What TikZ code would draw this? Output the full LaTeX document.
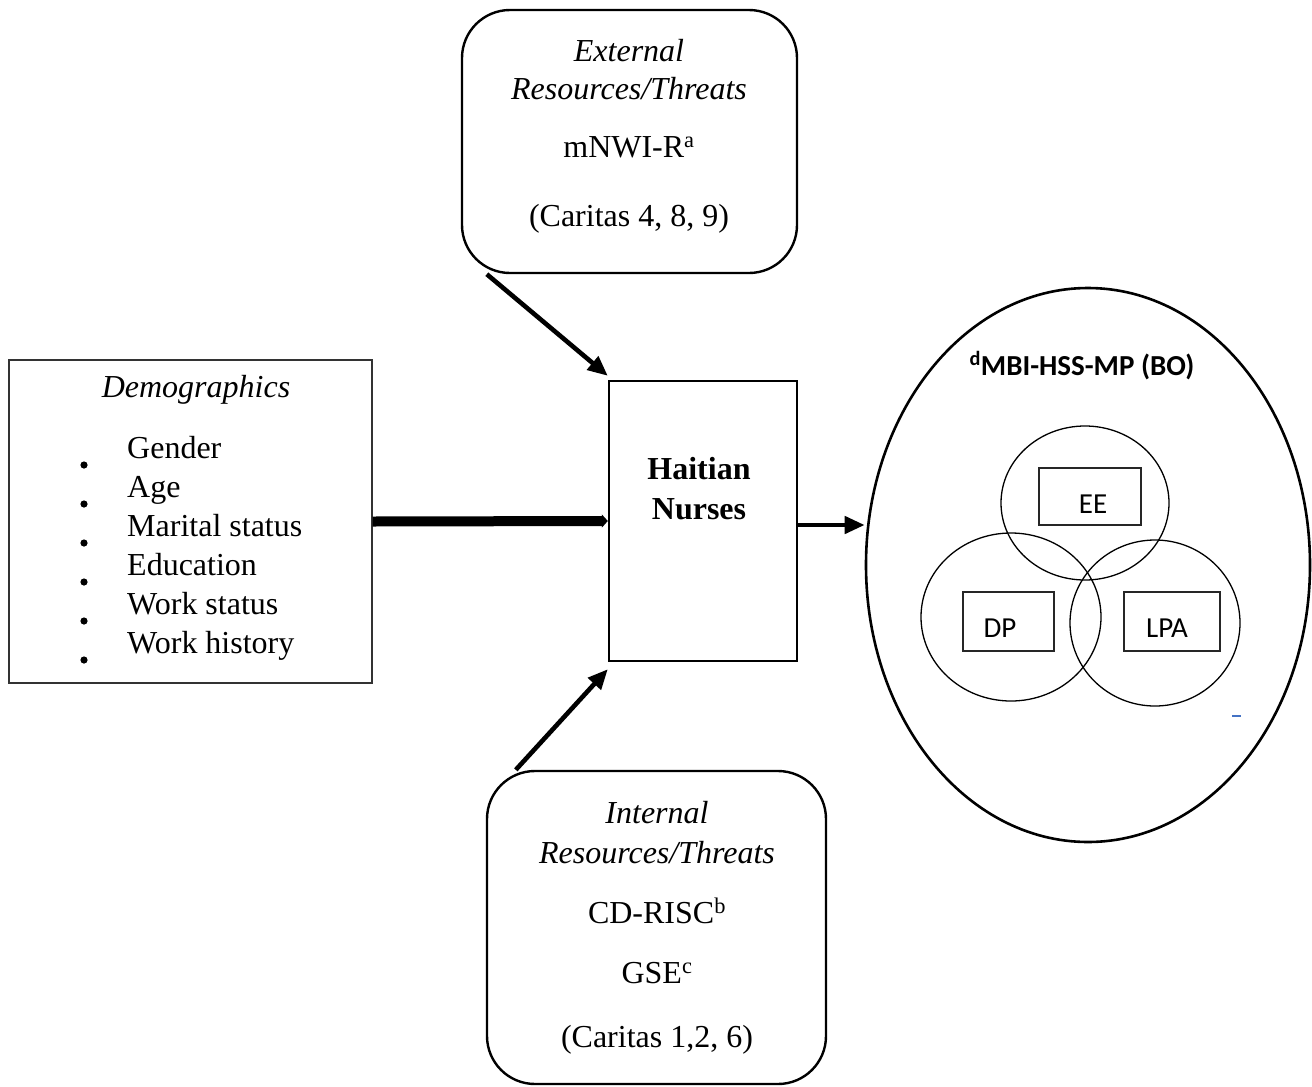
\documentclass[tikz,border=0pt]{standalone}
\usepackage{fontspec}
\setmainfont{Liberation Serif}
\newfontfamily\calibri{Carlito}
\usetikzlibrary{shapes,arrows.meta}
\definecolor{dash_blue}{RGB}{68, 114, 196}
\tikzstyle{sq}=[rectangle,draw=black,line width=2.4pt,inner sep=0pt]
\tikzstyle{rb}=[rectangle,rounded corners=48pt,draw=black,line width=2.4pt,inner sep=0pt]
\tikzstyle{ring}=[ellipse,draw=black,line width=1.3pt,inner sep=0pt]
\tikzstyle{tag}=[rectangle,draw=black!85,line width=1.4pt,inner sep=0pt]
\tikzstyle{txt}=[anchor=base,inner sep=0pt,font=\fontsize{32}{38}\selectfont]
\tikzstyle{lbl}=[anchor=base,inner sep=0pt,font=\calibri\fontsize{29}{34}\selectfont]
\tikzstyle{arr}=[line width=4.6pt,-{Triangle[length=20pt,width=17pt]}]

\begin{document}
\begin{tikzpicture}[x=1pt,y=-1pt]
    \useasboundingbox (0,0) rectangle (1312,1087);
    % boxes
    \node [style=sq, draw=black!80, line width=1.4pt, minimum width=363pt, minimum height=323pt] (demo) at (190.5,521.5) {};
    \node [style=sq, minimum width=188pt, minimum height=280pt] (nurse) at (703,521) {};
    \node [style=rb, minimum width=335pt, minimum height=263pt] (ext) at (629.5,141.5) {};
    \node [style=rb, minimum width=339pt, minimum height=313pt] (int) at (656.5,927.5) {};
    \node [ellipse, draw=black, line width=2.6pt, inner sep=0pt, minimum width=444pt, minimum height=554pt] (bo) at (1088,565) {};
    % texts
    \node [style=txt, font=\itshape\fontsize{32}{38}\selectfont] (demotitle) at (196,397) {Demographics};
    \foreach \item [count=\i] in {Gender, Age, Marital status, Education, Work status, Work history} {
        \node [style=txt, anchor=base west] (item\i) at (127,419+39*\i) {\item};
        \fill (84,426+39*\i) circle (3.6pt);
    }
    \node [style=txt, font=\bfseries\fontsize{32}{38}\selectfont] (h1) at (699,479) {Haitian};
    \node [style=txt, font=\bfseries\fontsize{32}{38}\selectfont] (h2) at (699,519) {Nurses};
    \node [style=txt, font=\itshape\fontsize{32}{38}\selectfont] (e1) at (629,61) {External};
    \node [style=txt, font=\itshape\fontsize{32}{38}\selectfont] (e2) at (629,99) {Resources/Threats};
    \node [style=txt] (e3) at (629,157) {mNWI-R\textsuperscript{a}};
    \node [style=txt] (e4) at (629,226) {(Caritas 4, 8, 9)};
    \node [style=txt, font=\itshape\fontsize{32}{38}\selectfont] (i1) at (657,823) {Internal};
    \node [style=txt, font=\itshape\fontsize{32}{38}\selectfont] (i2) at (657,863) {Resources/Threats};
    \node [style=txt] (i3) at (657,923) {CD-RISC\textsuperscript{b}};
    \node [style=txt] (i4) at (657,983) {GSE\textsuperscript{c}};
    \node [style=txt] (i5) at (657,1047) {(Caritas 1,2, 6)};
    \node [style=lbl, font=\calibri\bfseries\fontsize{29}{34}\selectfont] (botitle) at (1082,375) {\textsuperscript{d}MBI-HSS-MP (BO)};
    % venn
    \node [style=ring, minimum width=168pt, minimum height=154pt] (cee) at (1085,503) {};
    \node [style=ring, minimum width=180pt, minimum height=168pt] (cdp) at (1011,617) {};
    \node [style=ring, minimum width=170pt, minimum height=166pt] (clpa) at (1155,623) {};
    \node [style=tag, minimum width=102pt, minimum height=57pt] (ee) at (1090,496.5) {};
    \node [style=tag, minimum width=91pt, minimum height=59pt] (dp) at (1008.5,621.5) {};
    \node [style=tag, minimum width=96pt, minimum height=59pt] (lpa) at (1172,621.5) {};
    \node [style=lbl] (eet) at (1093,513) {EE};
    \node [style=lbl] (dpt) at (1000,637) {DP};
    \node [style=lbl] (lpat) at (1167,637) {LPA};
    \draw [dash_blue, line width=1.2pt] (1232,716) -- (1241,716);
    % arrows
    \draw [line width=10pt, -{Triangle[length=6pt,width=13pt]}] (demo.east) to (nurse.west);
    \draw [style=arr] ([xshift=26pt]ext.south west) to ([yshift=4pt]nurse.north west);
    \draw [style=arr] ([xshift=30pt]int.north west) to ([yshift=-7pt]nurse.south west);
    \draw [style=arr] ([yshift=-4pt]nurse.east) to ([yshift=-4pt]nurse.east -| bo.west); %\draw (nurse) to (bo);
\end{tikzpicture}
\end{document}
